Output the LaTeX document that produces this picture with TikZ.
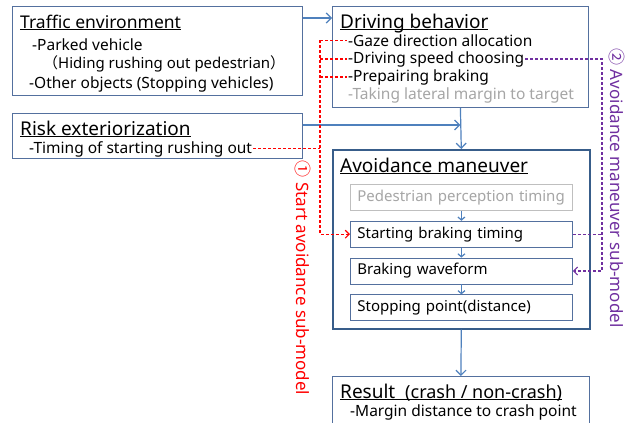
\documentclass[tikz,border=0pt]{standalone}
\usepackage{fontspec}
\setmainfont{Noto Sans}
\newfontfamily\cjk{Noto Sans CJK JP}
\usetikzlibrary{positioning}
\usetikzlibrary{calc}
\usetikzlibrary{arrows.meta}
\newcommand{\headline}[1]{\underline{\smash{#1}}}
\definecolor{boxline}{RGB}{84,112,158}
\definecolor{mainline}{RGB}{56,93,138}
\definecolor{flowblue}{RGB}{79,129,189}
\definecolor{lightgray}{RGB}{191,191,191}
\definecolor{greytext}{RGB}{166,166,166}
\definecolor{subpurple}{RGB}{112,48,160}
\tikzset{
  panel/.style={draw=boxline, line width=0.8pt, anchor=north west, inner sep=0pt},
  title/.style={anchor=base west, inner sep=0pt, font=\fontsize{19}{22}\selectfont},
  item/.style={anchor=base west, inner sep=1pt, font=\fontsize{15.5}{18}\selectfont},
  stepbox/.style={draw=boxline, line width=0.8pt, minimum height=26pt, text width=208pt,
    inner xsep=7pt, inner ysep=0pt, align=left, font=\fontsize{15}{18}\selectfont},
  flow/.style={draw=flowblue, line width=1.2pt, -{Straight Barb[length=5pt,width=10pt]}},
  smallflow/.style={draw=flowblue, line width=1.2pt, -{Straight Barb[length=3pt,width=7pt]}},
  redcon/.style={draw=red, line width=1.1pt, dash pattern=on 3pt off 2pt},
  purcon/.style={draw=subpurple, line width=1.1pt, dash pattern=on 3pt off 2pt},
  sidelabel/.style={rotate=-90, inner sep=0pt, font=\fontsize{17}{20}\selectfont}
}
\begin{document}
\begin{tikzpicture}[x=1pt, y=-1pt]
    \useasboundingbox[fill=white] (0,0) rectangle (632,423);

    % Traffic environment
    \node[panel, minimum width=290pt, minimum height=89pt] (traffic) at (12,6) {};
    \node[title, font=\fontsize{17.5}{21}\selectfont] (traffictitle) at (20,28) {\headline{Traffic environment}};
    \node[item] (parked) at (31,50) {-Parked vehicle};
    \node[item, font=\fontsize{15}{18}\selectfont] (hiding) at (42,68) {{\cjk （}Hiding rushing out pedestrian{\cjk ）}};
    \node[item] (other) at (28,88) {-Other objects (Stopping vehicles)};

    % Risk exteriorization
    \node[panel, minimum width=290pt, minimum height=45pt] (risk) at (12,113) {};
    \node[title] (risktitle) at (20,135) {\headline{Risk exteriorization}};
    \node[item] (rush) at (28,153) {-Timing of starting rushing out};

    % Driving behavior
    \node[panel, minimum width=256pt, minimum height=101pt] (driving) at (332,6) {};
    \node[title] (drvtitle) at (340,28) {\headline{Driving behavior}};
    \node[item] (gaze) at (347,46) {-Gaze direction allocation};
    \node[item] (drvspd) at (347,63) {-Driving speed choosing};
    \node[item] (prep) at (347,81) {-Prepairing braking};
    \node[item, text=greytext] (lateral) at (347,99) {-Taking lateral margin to target};

    % Avoidance maneuver
    \node[panel, draw=mainline, line width=1.6pt, minimum width=257pt, minimum height=179pt] (avoid) at (332,149) {};
    \node[title] (avoidtitle) at (340,172) {\headline{Avoidance maneuver}};
    \node[stepbox, draw=lightgray, text=greytext, anchor=north west] (ped) at (350,184) {Pedestrian perception timing};
    \node[stepbox, below=10pt of ped] (sbt) {Starting braking timing};
    \node[stepbox, below=10pt of sbt] (bw) {Braking waveform};
    \node[stepbox, below=10pt of bw] (sp) {Stopping point(distance)};

    % Result
    \node[panel, minimum width=257pt, minimum height=60pt] (result) at (332,376) {};
    \node[title] (resulttitle) at (340,398) {\headline{Result\ \ {\fontsize{18}{21}\selectfont(crash / non-crash)}}};
    \node[item] (margin) at (349,416) {-Margin distance to crash point};

    % Flow
    \coordinate (trafficout) at ($(traffic.north east)+(0,12)$);
    \coordinate (riskout) at ($(risk.north east)+(0,12)$);
    \draw[flow] (trafficout) -- (trafficout -| driving.west);
    \draw[flow] (riskout) -- (riskout -| driving.south);
    \draw[flow] (driving.south) -- (avoid.north);
    \draw[smallflow] (ped.south) -- (sbt.north);
    \draw[smallflow] (sbt.south) -- (bw.north);
    \draw[smallflow] (bw.south) -- (sp.north);
    \draw[flow] (avoid.south) -- (result.north);

    % Start avoidance sub-model
    \coordinate (redx) at (320,0);
    \draw[redcon] (rush.east) -- (rush.east -| redx);
    \draw[redcon] (gaze.west -| redx) -- (gaze.west);
    \draw[redcon] (drvspd.west -| redx) -- (drvspd.west);
    \draw[redcon] (prep.west -| redx) -- (prep.west);
    \draw[redcon, -{Straight Barb[length=4pt,width=8pt]}] (gaze.west -| redx) -- (sbt.west -| redx) -- (sbt.west);
    \node[sidelabel, text=red] (startlbl) at (303,278) {{\cjk ①} Start avoidance sub-model};

    % Avoidance maneuver sub-model
    \coordinate (purx) at (602,0);
    \draw[purcon] (sbt.east) -- (sbt.east -| purx);
    \draw[purcon, -{Straight Barb[length=4pt,width=8pt]}] (drvspd.east) -- (drvspd.east -| purx) -- (bw.east -| purx) -- (bw.east);
    \node[sidelabel, text=subpurple] (avoidlbl) at (617,188) {{\cjk ②} Avoidance maneuver sub-model};

\end{tikzpicture}
\end{document}
